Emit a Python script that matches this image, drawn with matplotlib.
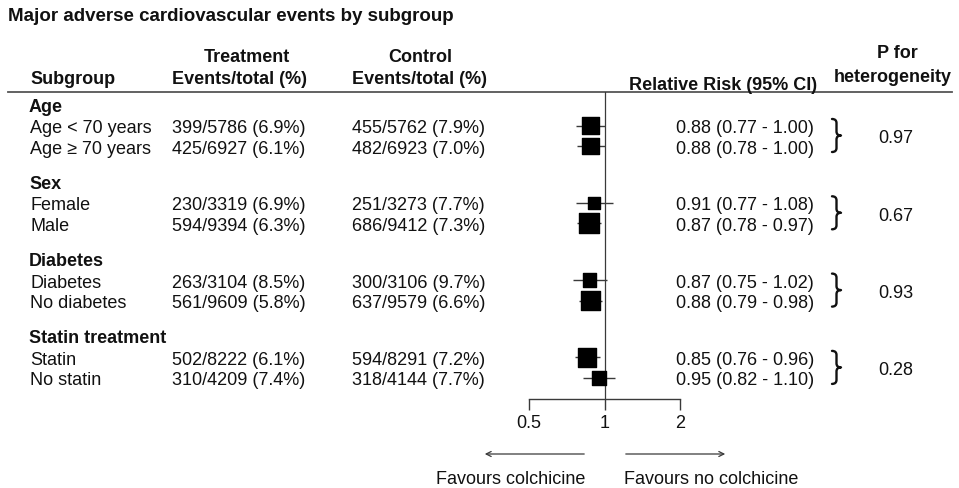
import matplotlib.pyplot as plt
import numpy as np
from matplotlib.path import Path
from matplotlib.patches import PathPatch
from matplotlib.ticker import NullLocator

plt.rcParams['font.family'] = ['Liberation Sans', 'DejaVu Sans']

# data
groups = ['Age', 'Sex', 'Diabetes', 'Statin treatment']
labels = ['Age < 70 years', 'Age \u2265 70 years', 'Female', 'Male',
          'Diabetes', 'No diabetes', 'Statin', 'No statin']
trt_events = [399, 425, 230, 594, 263, 561, 502, 310]
trt_total = [5786, 6927, 3319, 9394, 3104, 9609, 8222, 4209]
trt_pct = [6.9, 6.1, 6.9, 6.3, 8.5, 5.8, 6.1, 7.4]
ctl_events = [455, 482, 251, 686, 300, 637, 594, 318]
ctl_total = [5762, 6923, 3273, 9412, 3106, 9579, 8291, 4144]
ctl_pct = [7.9, 7.0, 7.7, 7.3, 9.7, 6.6, 7.2, 7.7]
rr = [0.88, 0.88, 0.91, 0.87, 0.87, 0.88, 0.85, 0.95]
rr_lo = [0.77, 0.78, 0.77, 0.78, 0.75, 0.79, 0.76, 0.82]
rr_hi = [1.00, 1.00, 1.08, 0.97, 1.02, 0.98, 0.96, 1.10]
p_het = ['0.97', '0.67', '0.93', '0.28']

W, H = 959, 489
FS = 13
INK = '#111111'
LINE = '#3a3a3a'

fig = plt.figure(figsize=(W / 100, H / 100), dpi=100)

# text layer, pixel coordinates (y downwards)
tx = fig.add_axes([0, 0, 1, 1])
tx.set_xlim(0, W)
tx.set_ylim(H, 0)
tx.axis('off')

# forest layer
left, right, top, bot = 529, 680, 93, 400
fx = fig.add_axes([left / W, 1 - bot / H, (right - left) / W, (bot - top) / H])
fx.set_xscale('log', base=2)
fx.set_xlim(0.5, 2)
fx.set_ylim(bot, top)
fx.patch.set_alpha(0)
for s in ['top', 'right', 'left']:
    fx.spines[s].set_visible(False)
fx.spines['bottom'].set_color(LINE)
fx.spines['bottom'].set_linewidth(1)
fx.set_xticks([0.5, 1, 2])
fx.set_xticklabels(['0.5', '1', '2'])
fx.xaxis.set_minor_locator(NullLocator())
fx.tick_params(axis='x', direction='out', length=8, width=1, color=LINE,
               labelsize=FS, labelcolor=INK, pad=3)
fx.set_yticks([])
fx.axvline(1, color=LINE, lw=0.9, zorder=1)


def txt(x, y, s, ha='left', bold=False, size=FS):
    # y is the visual centre of the capitals
    tx.text(x, y + 0.36 * size * 100 / 72, s, ha=ha, va='baseline', fontsize=size,
            fontweight='bold' if bold else 'normal', color=INK)


txt(8, 14, 'Major adverse cardiovascular events by subgroup', bold=True, size=13.5)

txt(247, 55, 'Treatment', ha='center', bold=True)
txt(420, 55, 'Control', ha='center', bold=True)
txt(30, 77, 'Subgroup', bold=True)
txt(172, 77, 'Events/total (%)', bold=True)
txt(352, 77, 'Events/total (%)', bold=True)
txt(723, 84, 'Relative Risk (95% CI)', ha='center', bold=True)
txt(897, 52, 'P for', ha='center', bold=True)
txt(893, 75, 'heterogeneity', ha='center', bold=True)
tx.plot([8, 952], [93, 93], color='#555555', lw=1.3)

ys = []
for g, name in enumerate(groups):
    h = 105 + 77.3 * g
    txt(29, h, name, bold=True)
    ys += [h + 21.5, h + 42]

for i in range(len(labels)):
    y = ys[i]
    txt(30, y, labels[i])
    txt(172, y, '%d/%d (%.1f%%)' % (trt_events[i], trt_total[i], trt_pct[i]))
    txt(352, y, '%d/%d (%.1f%%)' % (ctl_events[i], ctl_total[i], ctl_pct[i]))
    txt(676, y, '%.2f (%.2f - %.2f)' % (rr[i], rr_lo[i], rr_hi[i]))

# CI lines and weighted squares
fx.hlines(ys, rr_lo, rr_hi, color=LINE, lw=1, zorder=2)
side = 0.56 * np.sqrt(np.array(trt_events) + np.array(ctl_events)) * 0.72
fx.scatter(rr, ys, s=side ** 2, marker='s', color='black', zorder=3, clip_on=False)


def brace(x0, y0, y1, w=9):
    ym = (y0 + y1) / 2
    r = 4
    xm = x0 + w / 2
    verts = [(x0, y0), (xm, y0), (xm, y0 + r), (xm, ym - r), (xm, ym), (x0 + w, ym),
             (xm, ym), (xm, ym + r), (xm, y1 - r), (xm, y1), (x0, y1)]
    codes = [Path.MOVETO, Path.CURVE3, Path.CURVE3, Path.LINETO, Path.CURVE3, Path.CURVE3,
             Path.CURVE3, Path.CURVE3, Path.LINETO, Path.CURVE3, Path.CURVE3]
    tx.add_patch(PathPatch(Path(verts, codes), fill=False, lw=1.7, color=INK,
                           capstyle='round', joinstyle='round'))


for g in range(len(groups)):
    y0, y1 = ys[2 * g], ys[2 * g + 1]
    brace(832, y0 - 6.5, y1 + 6)
    txt(896, (y0 + y1) / 2, p_het[g], ha='center')

# direction arrows
arrow = dict(arrowstyle='->', color=LINE, lw=0.9, mutation_scale=9)
tx.annotate('', xy=(482, 455), xytext=(587, 455), arrowprops=arrow)
tx.annotate('', xy=(728, 455), xytext=(623, 455), arrowprops=arrow)
txt(585, 477, 'Favours colchicine', ha='right')
txt(624, 477, 'Favours no colchicine')

fig.savefig('out.png', dpi=100, facecolor='white')
